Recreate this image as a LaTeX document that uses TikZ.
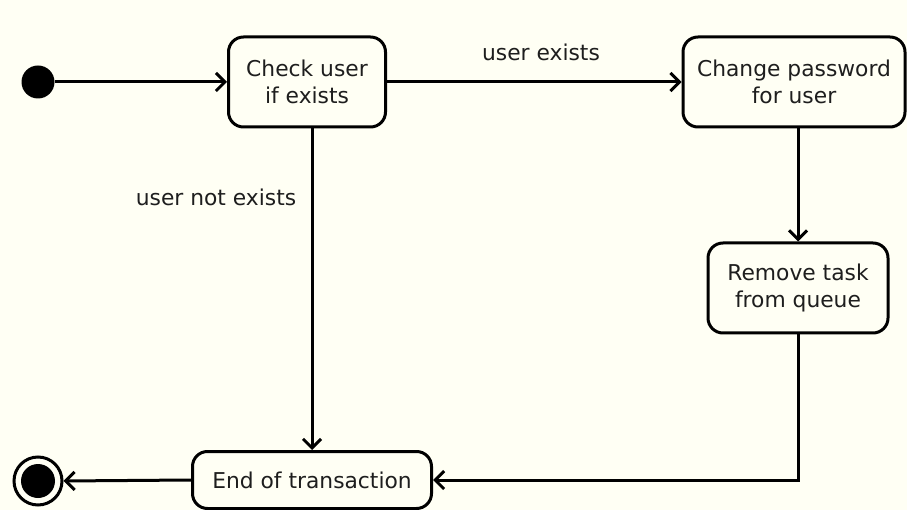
\documentclass[tikz,border=0pt]{standalone}
\usepackage{fontspec}
\setmainfont{DejaVu Sans}
\usetikzlibrary{arrows.meta}
\definecolor{bgcol}{RGB}{255,255,244}
\definecolor{txtcol}{RGB}{30,30,30}
\begin{document}
\begin{tikzpicture}[x=1pt,y=-1pt,
  act/.style={draw,line width=3pt,rounded corners=15pt,align=center,inner sep=0pt,
    text=txtcol,font=\fontsize{21.8}{27}\selectfont},
  lbl/.style={font=\fontsize{21.8}{27}\selectfont,inner sep=0pt,text=txtcol},
  flow/.style={line width=3pt,-{Straight Barb[length=9pt,width=18pt,line width=3pt]}}]
\fill[bgcol] (0,0) rectangle (907,510);
\useasboundingbox (0,0) rectangle (907,510);
\node[circle,fill=black,minimum size=33pt,inner sep=0pt] (init) at (38,82) {};
\node[act,minimum width=157pt,minimum height=90pt] (check) at (307,82) {Check user\\if exists};
\node[act,minimum width=222pt,minimum height=90pt] (change) at (794,82) {Change password\\for user};
\node[act,minimum width=180pt,minimum height=90pt] (remove) at (798,288) {Remove task\\from queue};
\node[act,minimum width=239pt,minimum height=57pt] (endt) at (312,480) {End of transaction};
\node[circle,draw,line width=3pt,minimum size=48pt,inner sep=0pt] (final) at (38,481) {};
\node[circle,fill=black,minimum size=34pt,inner sep=0pt] (finalin) at (final.center) {};
\node[lbl] (lexists) at (541,52) {user exists};
\node[lbl] (lnot) at (216,197) {user not exists};
\draw[flow] (init.east) -- (check.west);
\draw[flow] (check.east) -- (change.west);
\draw[flow] (endt.north |- check.south) -- (endt.north);
\draw[flow] (remove.north |- change.south) -- (remove.north);
\draw[flow] (remove.south) -- (remove.south |- endt.east) -- (endt.east);
\draw[flow] (endt.west) -- (final.east);
\end{tikzpicture}
\end{document}
